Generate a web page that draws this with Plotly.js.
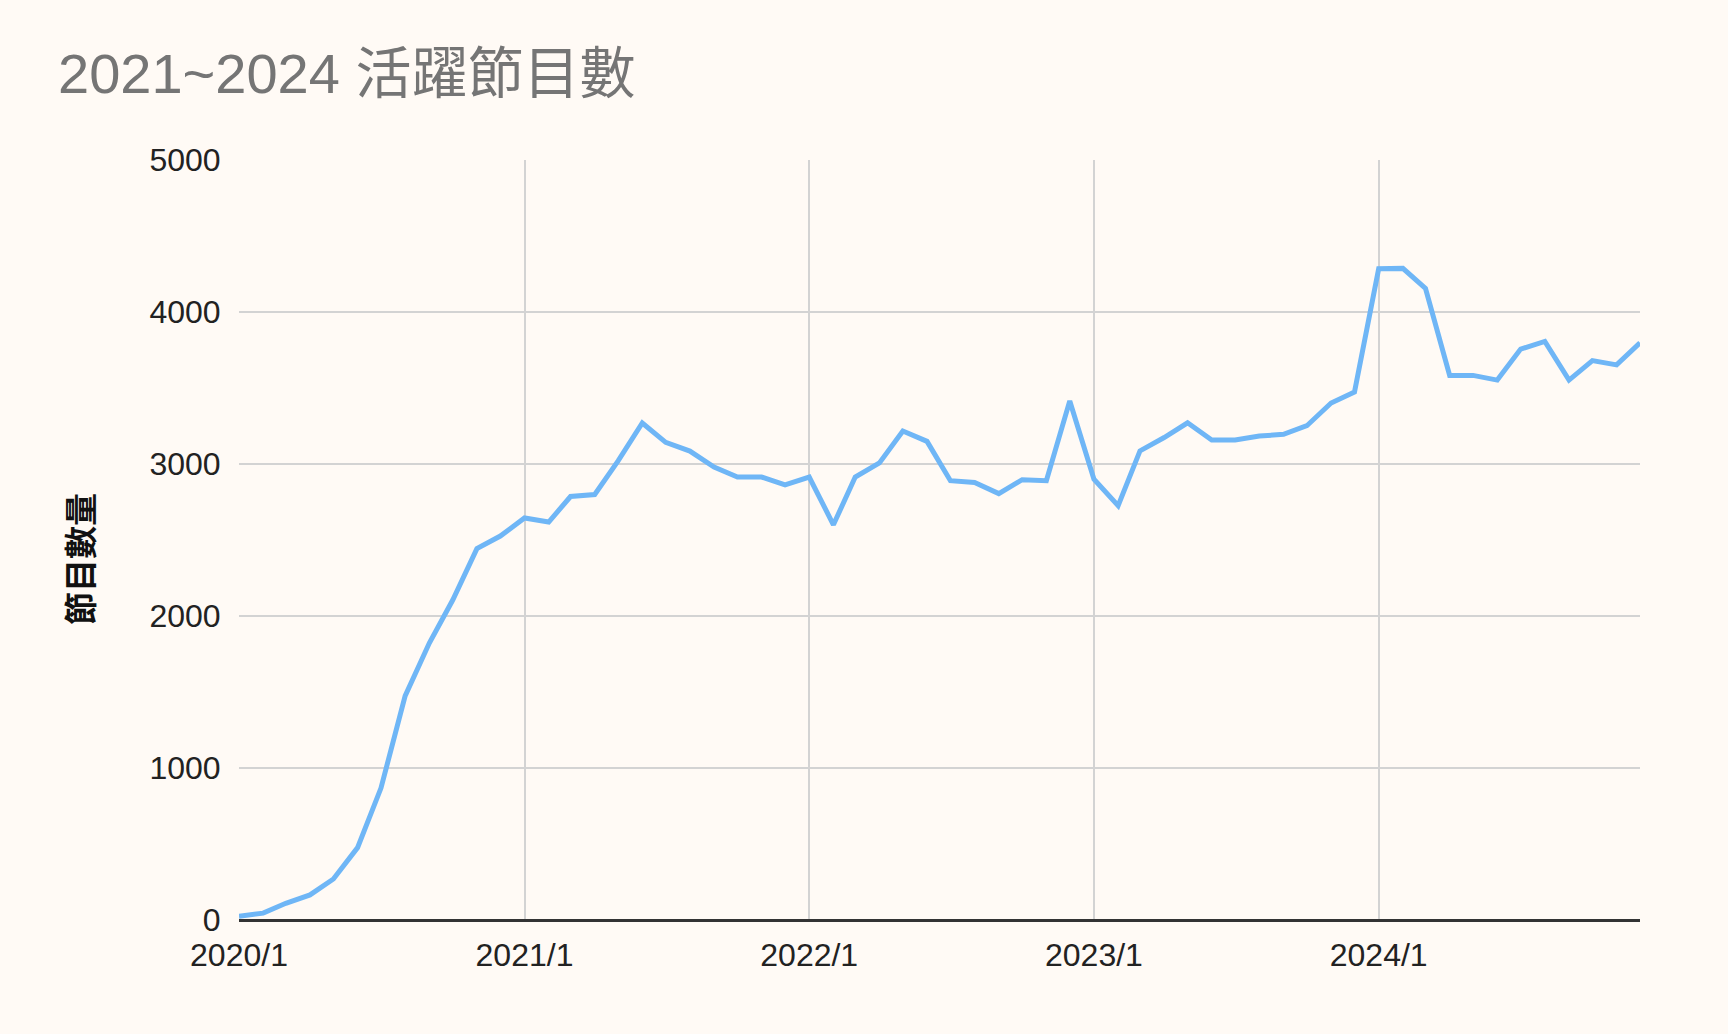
<!DOCTYPE html>
<html>
<head>
<meta charset="utf-8">
<script src="https://cdn.plot.ly/plotly-3.0.1.min.js"></script>
<style>html,body{margin:0;padding:0;background:#fffaf5;}#chart{width:1728px;height:1034px;}</style>
</head>
<body>
<div id="chart"></div>
<script>
const months = [
  "2020-01-01","2020-02-01","2020-03-01","2020-04-01","2020-05-01","2020-06-01",
  "2020-07-01","2020-08-01","2020-09-01","2020-10-01","2020-11-01","2020-12-01",
  "2021-01-01","2021-02-01","2021-03-01","2021-04-01","2021-05-01","2021-06-01",
  "2021-07-01","2021-08-01","2021-09-01","2021-10-01","2021-11-01","2021-12-01",
  "2022-01-01","2022-02-01","2022-03-01","2022-04-01","2022-05-01","2022-06-01",
  "2022-07-01","2022-08-01","2022-09-01","2022-10-01","2022-11-01","2022-12-01",
  "2023-01-01","2023-02-01","2023-03-01","2023-04-01","2023-05-01","2023-06-01",
  "2023-07-01","2023-08-01","2023-09-01","2023-10-01","2023-11-01","2023-12-01",
  "2024-01-01","2024-02-01","2024-03-01","2024-04-01","2024-05-01","2024-06-01",
  "2024-07-01","2024-08-01","2024-09-01","2024-10-01","2024-11-01","2024-12-01"
];
const activeShows = [
  25, 45, 110, 165, 270, 476, 868, 1474, 1822, 2105, 2443, 2526,
  2645, 2618, 2786, 2799, 3020, 3270, 3142, 3085, 2980, 2914, 2914, 2862,
  2914, 2600, 2914, 3007, 3217, 3149, 2890, 2878, 2805, 2897, 2890, 3415,
  2900, 2726, 3086, 3174, 3271, 3158, 3158, 3184, 3195, 3252, 3401, 3474,
  4285, 4287, 4156, 3583, 3583, 3552, 3756, 3806, 3552, 3680, 3652, 3797
];
const chartTitle = "2021~2024 活躍節目數";
const yTitle = "節目數量";

const trace = {
  x: months,
  y: activeShows,
  type: "scatter",
  mode: "lines",
  line: {color: "#6fb6f6", width: 5},
  hoverinfo: "x+y"
};

const layout = {
  width: 1728,
  height: 1034,
  paper_bgcolor: "#fffaf5",
  plot_bgcolor: "#fffaf5",
  margin: {l: 239, r: 88, t: 160, b: 114},
  showlegend: false,
  title: {
    text: chartTitle,
    font: {family: "Liberation Sans, Arial, Noto Sans CJK TC, sans-serif", size: 56, color: "#757575"},
    xref: "container", x: 58/1728, xanchor: "left",
    yref: "container", y: 1 - 73/1034, yanchor: "middle"
  },
  xaxis: {
    type: "date",
    range: ["2020-01-01", "2024-12-01"],
    tick0: "2020-01-01",
    dtick: "M12",
    tickformat: "%Y/%-m",
    showgrid: true,
    gridcolor: "#d3d3d3",
    gridwidth: 2,
    ticks: "outside",
    ticklen: 7,
    tickcolor: "rgba(0,0,0,0)",
    showline: false,
    zeroline: false,
    tickfont: {family: "Liberation Sans, Arial, sans-serif", size: 32, color: "#222222"}
  },
  yaxis: {
    range: [0, 5000],
    tick0: 0,
    dtick: 1000,
    showgrid: true,
    gridcolor: "#d3d3d3",
    gridwidth: 2,
    zeroline: true,
    zerolinecolor: "#333333",
    zerolinewidth: 3,
    ticks: "outside",
    ticklen: 11,
    tickcolor: "rgba(0,0,0,0)",
    tickfont: {family: "Liberation Sans, Arial, sans-serif", size: 32, color: "#222222"}
  },
  annotations: [{
    text: yTitle,
    xref: "paper", yref: "paper",
    x: (79 - 239) / 1401, y: (920 - 559) / 760,
    xanchor: "center", yanchor: "middle",
    textangle: -90,
    showarrow: false,
    font: {family: "Noto Sans CJK TC, sans-serif", size: 33, color: "#111111", weight: "bold"}
  }]
};

Plotly.newPlot("chart", [trace], layout, {displayModeBar: false, staticPlot: true});
</script>
</body>
</html>
